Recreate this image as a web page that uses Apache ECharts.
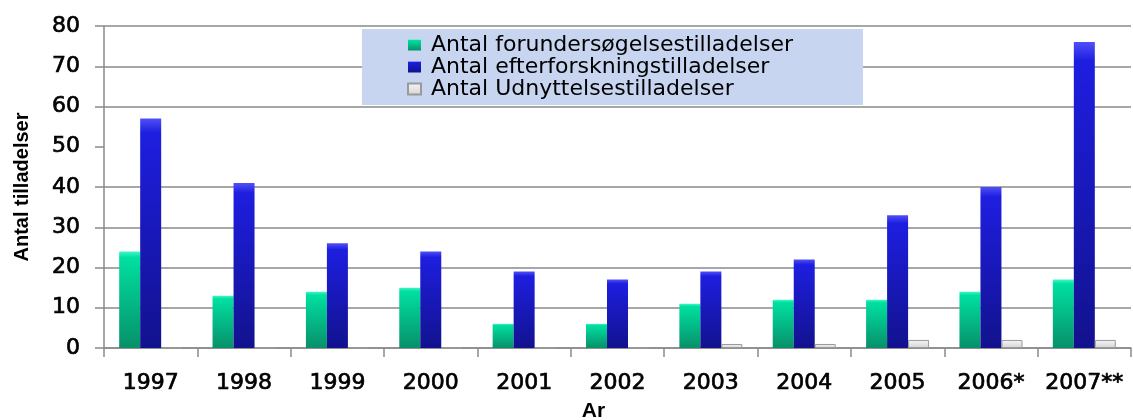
<!DOCTYPE html>
<html>
<head>
<meta charset="utf-8">
<script src="https://cdn.jsdelivr.net/npm/echarts@6/dist/echarts.min.js"></script>
<style>
html,body{margin:0;padding:0;background:#fff;}
#c{width:1133px;height:420px;}
</style>
</head>
<body>
<div id="c"></div>
<script>
var categories = ['1997','1998','1999','2000','2001','2002','2003','2004','2005','2006*','2007**'];
var forundersogelse = [24,13,14,15,6,6,11,12,12,14,17];
var efterforskning = [57,41,26,24,19,17,19,22,33,40,76];
var udnyttelse = [0,0,0,0,0,0,1,1,2,2,2];
var seriesNames = ['Antal forundersøgelsestilladelser','Antal efterforskningstilladelser','Antal Udnyttelsestilladelser'];

var chart = echarts.init(document.getElementById('c'));
function grad(top, mid, bottom){
  return new echarts.graphic.LinearGradient(0,0,0,1,[
    {offset:0,color:top},{offset:0.06,color:mid},{offset:1,color:bottom}
  ]);
}
var gridColors = ['#8a8a8a','#8a8a8a','#8a8a8a','#8a8a8a','#8a8a8a','rgba(0,0,0,0)','#8a8a8a','#8a8a8a','#8a8a8a'];
var labelFont = 'DejaVu Sans, Verdana, sans-serif';
chart.setOption({
  animation:false,
  backgroundColor:'#fff',
  textStyle:{fontFamily:labelFont},
  grid:{left:104,right:2,top:26,bottom:72,containLabel:false,outerBoundsMode:'none'},
  legend:{
    data:seriesNames,
    orient:'vertical',
    left:362, top:29,
    backgroundColor:'#c7d5f0',
    padding:[5,70,5,45],
    itemWidth:13,itemHeight:11,itemGap:0,
    textStyle:{fontSize:22,color:'#000',fontFamily:labelFont,padding:[0,0,0,5]},
    icon:'rect'
  },
  xAxis:{
    type:'category',
    data:categories,
    name:'Ar',
    nameLocation:'middle',
    nameGap:53,
    nameTextStyle:{fontSize:21,fontWeight:'bold',color:'#000',fontFamily:'Liberation Sans, Arial, sans-serif',padding:[0,48,0,0]},
    axisLine:{lineStyle:{color:'#8a8a8a',width:1.5}},
    axisTick:{show:true,length:9,lineStyle:{color:'#8a8a8a',width:1.5}},
    axisLabel:{interval:0,fontSize:22,color:'#000',margin:24,fontFamily:labelFont,textBorderColor:'#000',textBorderWidth:0.7}
  },
  yAxis:{
    type:'value',
    min:0,max:80,interval:10,
    name:'Antal tilladelser',
    nameLocation:'middle',
    nameGap:72,
    nameRotate:90,
    nameTextStyle:{fontSize:20,fontWeight:'bold',color:'#000',fontFamily:'Liberation Sans, Arial, sans-serif'},
    axisLine:{show:true,lineStyle:{color:'#8a8a8a',width:1.5}},
    axisTick:{show:true,length:9,lineStyle:{color:'#8a8a8a',width:1.5}},
    axisLabel:{fontSize:22,color:'#000',margin:24,fontFamily:labelFont,textBorderColor:'#000',textBorderWidth:0.7},
    splitLine:{show:true,lineStyle:{color:gridColors,width:1.5}}
  },
  series:[
    {name:seriesNames[0],type:'bar',data:forundersogelse,barWidth:21,barGap:'0%',
     itemStyle:{color:grad('#40f8c8','#00e0a0','#07906a')}},
    {name:seriesNames[1],type:'bar',data:efterforskning,barWidth:21,barGap:'0%',
     itemStyle:{color:grad('#5050f8','#1e1ee0','#12128e')}},
    {name:seriesNames[2],type:'bar',data:udnyttelse,barWidth:21,barGap:'0%',
     itemStyle:{color:grad('#ffffff','#f4f4f4','#d4d4d4'),borderColor:'#9a9a9a',borderWidth:1}}
  ]
});
</script>
</body>
</html>
